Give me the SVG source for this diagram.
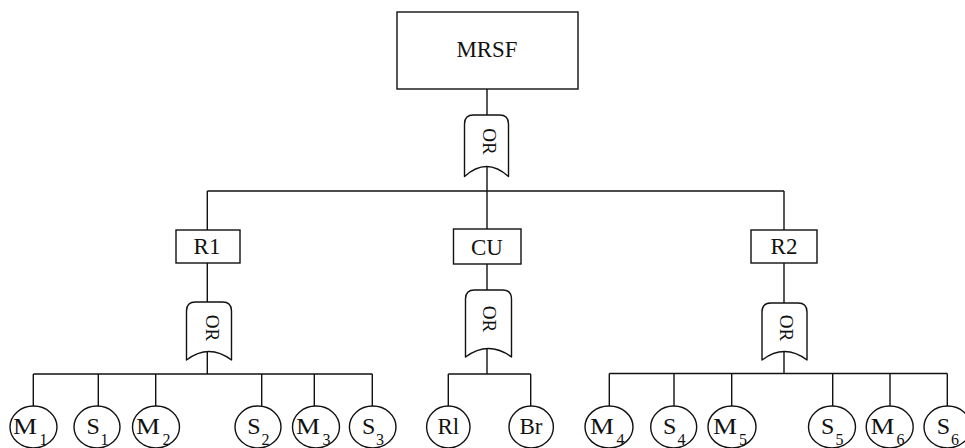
<svg xmlns="http://www.w3.org/2000/svg" width="965" height="448" viewBox="0 0 965 448">
<style>
.ln{stroke:#111;stroke-width:1.4;fill:none}
.box{stroke:#111;stroke-width:1.4;fill:#fff}
.gate{stroke:#111;stroke-width:1.4;fill:#fff;stroke-linejoin:round}
.ev{stroke:#111;stroke-width:1.4;fill:#fff}
text{font-family:"Liberation Serif","Times New Roman",serif;fill:#111}
.lbl{font-size:23px;text-anchor:middle}
.or{font-size:19px;text-anchor:middle}
.big{font-size:24px}
.sub{font-size:16px}
</style>
<rect width="965" height="448" fill="#fff"/>
<g id="connectors">
<line class="ln" x1="487" y1="89" x2="487" y2="115"/>
<line class="ln" x1="487" y1="166.5" x2="487" y2="191"/>
<line class="ln" x1="207.3" y1="191" x2="784" y2="191"/>
<line class="ln" x1="207.3" y1="191" x2="207.3" y2="230"/>
<line class="ln" x1="487" y1="191" x2="487" y2="229"/>
<line class="ln" x1="784" y1="191" x2="784" y2="230"/>
<line class="ln" x1="207.3" y1="263" x2="207.3" y2="302"/>
<line class="ln" x1="487" y1="264" x2="487" y2="290"/>
<line class="ln" x1="784" y1="263" x2="784" y2="303"/>
<line class="ln" x1="207.3" y1="351.5" x2="207.3" y2="374"/>
<line class="ln" x1="487" y1="348.5" x2="487" y2="374"/>
<line class="ln" x1="784" y1="351.5" x2="784" y2="373.5"/>
<line class="ln" x1="33.3" y1="374" x2="372.3" y2="374"/>
<line class="ln" x1="33.3" y1="374" x2="33.3" y2="406"/>
<line class="ln" x1="98.3" y1="374" x2="98.3" y2="406"/>
<line class="ln" x1="155.7" y1="374" x2="155.7" y2="406"/>
<line class="ln" x1="261.7" y1="374" x2="261.7" y2="406"/>
<line class="ln" x1="314.3" y1="374" x2="314.3" y2="406"/>
<line class="ln" x1="372.3" y1="374" x2="372.3" y2="406"/>
<line class="ln" x1="448.3" y1="374" x2="530.7" y2="374"/>
<line class="ln" x1="448.3" y1="374" x2="448.3" y2="406"/>
<line class="ln" x1="530.7" y1="374" x2="530.7" y2="406"/>
<line class="ln" x1="609.3" y1="373.5" x2="947.3" y2="373.5"/>
<line class="ln" x1="609.3" y1="373.5" x2="609.3" y2="406"/>
<line class="ln" x1="674" y1="373.5" x2="674" y2="406"/>
<line class="ln" x1="731.7" y1="373.5" x2="731.7" y2="406"/>
<line class="ln" x1="832.7" y1="373.5" x2="832.7" y2="406"/>
<line class="ln" x1="890" y1="373.5" x2="890" y2="406"/>
<line class="ln" x1="947.3" y1="373.5" x2="947.3" y2="406"/>
</g>
<g id="MRSF">
<rect class="box" x="397" y="12" width="181" height="77"/>
<text class="lbl" x="487" y="57" textLength="61" lengthAdjust="spacingAndGlyphs">MRSF</text>
</g>
<g id="OR0">
<path class="gate" d="M464.5,176.5 L464.5,124 Q464.5,115 473.5,115 L499.5,115 Q508.5,115 508.5,124 L508.5,176.5 Q486.5,156.5 464.5,176.5 Z"/>
<text class="or" transform="translate(482.5,141.5) rotate(90)">OR</text>
</g>
<g id="R1">
<rect class="box" x="176" y="230" width="64" height="33"/>
<text class="lbl" x="207" y="254">R1</text>
</g>
<g id="CU">
<rect class="box" x="453.5" y="229" width="67.5" height="35"/>
<text class="lbl" x="487" y="255">CU</text>
</g>
<g id="R2">
<rect class="box" x="751" y="230" width="66" height="33"/>
<text class="lbl" x="784" y="254">R2</text>
</g>
<g id="OR1">
<path class="gate" d="M186.5,360 L186.5,311 Q186.5,302 195.5,302 L222.5,302 Q231.5,302 231.5,311 L231.5,360 Q209,343 186.5,360 Z"/>
<text class="or" transform="translate(205.5,328) rotate(90)">OR</text>
</g>
<g id="OR2">
<path class="gate" d="M465.5,357 L465.5,299 Q465.5,290 474.5,290 L502.5,290 Q511.5,290 511.5,299 L511.5,357 Q488.5,340 465.5,357 Z"/>
<text class="or" transform="translate(483,319) rotate(90)">OR</text>
</g>
<g id="OR3">
<path class="gate" d="M762,360 L762,312 Q762,303 771,303 L798,303 Q807,303 807,312 L807,360 Q784.5,343 762,360 Z"/>
<text class="or" transform="translate(780,328) rotate(90)">OR</text>
</g>
<g id="M1"><ellipse class="ev" cx="33.5" cy="427" rx="23.5" ry="21"/><text class="big" x="13" y="434" textLength="24" lengthAdjust="spacingAndGlyphs">M</text><text class="sub" x="39.5" y="445">1</text></g>
<g id="S1"><ellipse class="ev" cx="97" cy="427" rx="23" ry="21"/><text class="big" x="86.5" y="434">S</text><text class="sub" x="100.5" y="445">1</text></g>
<g id="M2"><ellipse class="ev" cx="156" cy="427" rx="23.5" ry="21"/><text class="big" x="136" y="434" textLength="24" lengthAdjust="spacingAndGlyphs">M</text><text class="sub" x="162.5" y="445">2</text></g>
<g id="S2"><ellipse class="ev" cx="258" cy="427" rx="23" ry="21"/><text class="big" x="247.3" y="434">S</text><text class="sub" x="261.5" y="445">2</text></g>
<g id="M3"><ellipse class="ev" cx="316" cy="427" rx="23.5" ry="21"/><text class="big" x="296" y="434" textLength="24" lengthAdjust="spacingAndGlyphs">M</text><text class="sub" x="322.5" y="445">3</text></g>
<g id="S3"><ellipse class="ev" cx="372.7" cy="427" rx="23.3" ry="21"/><text class="big" x="362" y="434">S</text><text class="sub" x="376" y="445">3</text></g>
<g id="Rl"><ellipse class="ev" cx="448.3" cy="427" rx="21.7" ry="21"/><text class="lbl" x="448.3" y="434">Rl</text></g>
<g id="Br"><ellipse class="ev" cx="531.2" cy="427" rx="22.2" ry="21"/><text class="lbl" x="531" y="434">Br</text></g>
<g id="M4"><ellipse class="ev" cx="609" cy="427" rx="24" ry="21"/><text class="big" x="590" y="434" textLength="24" lengthAdjust="spacingAndGlyphs">M</text><text class="sub" x="616.5" y="445">4</text></g>
<g id="S4"><ellipse class="ev" cx="673.7" cy="427" rx="23" ry="21"/><text class="big" x="663" y="434">S</text><text class="sub" x="677.5" y="445">4</text></g>
<g id="M5"><ellipse class="ev" cx="732" cy="427" rx="24" ry="21"/><text class="big" x="713" y="434" textLength="24" lengthAdjust="spacingAndGlyphs">M</text><text class="sub" x="739" y="445">5</text></g>
<g id="S5"><ellipse class="ev" cx="832" cy="427" rx="23.5" ry="21"/><text class="big" x="821" y="434">S</text><text class="sub" x="835.5" y="445">5</text></g>
<g id="M6"><ellipse class="ev" cx="889.7" cy="427" rx="23.5" ry="21"/><text class="big" x="870.5" y="434" textLength="24" lengthAdjust="spacingAndGlyphs">M</text><text class="sub" x="896.5" y="445">6</text></g>
<g id="S6"><ellipse class="ev" cx="947.5" cy="427" rx="23.5" ry="21"/><text class="big" x="936.7" y="434">S</text><text class="sub" x="951" y="445">6</text></g>
</svg>
